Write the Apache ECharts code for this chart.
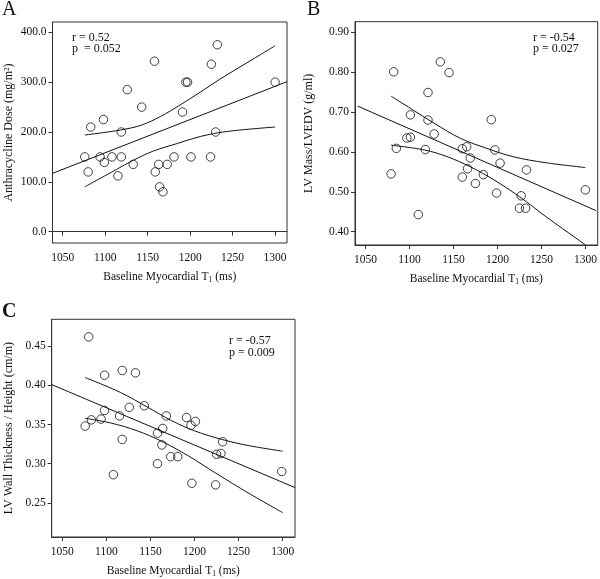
<!DOCTYPE html>
<html><head><meta charset="utf-8">
<script src="https://cdn.jsdelivr.net/npm/echarts@6/dist/echarts.min.js"></script>
<style>html,body{margin:0;padding:0;background:#fff}#c{width:600px;height:579px}</style>
</head><body><div id="c"></div>
<script>
// ---- tick labels ----
const xTicks = [1050, 1100, 1150, 1200, 1250, 1300];
const yTicksA = [0, 100, 200, 300, 400];
const yTicksB = [0.4, 0.5, 0.6, 0.7, 0.8, 0.9];
const yTicksC = [0.25, 0.30, 0.35, 0.40, 0.45];

// ---- Panel A: Anthracycline dose vs baseline T1 ----
const t1A = [1076,1080,1083,1094,1098,1099,1108,1115,1119,1119,1126,1133,1143,1158,1159,1163,1164,1168,1173,1181,1191,1195,1197,1201,1224,1225,1230,1232,1300];
const doseA = [150,120,210,150,225,139,150,112,200,150,285,135,250,342,120,135,90,80,135,150,240,300,300,150,150,336,200,375,300];
const fitAx = [1038, 1314];
const fitAy = [117, 301];
const upAx = [1076,1118,1143,1165,1188,1212,1235,1267,1300];
const upAy = [194,204,214,231,254,280,306,339,373];
const loAx = [1076,1106,1134,1157,1185,1212,1243,1300];
const loAy = [90,118,144,162,177,191,201,210];

// ---- Panel B: LV mass / LVEDV ----
const t1B = [1082,1135,1145,1121,1101,1121,1193,1128,1097,1101,1085,1118,1160,1165,1197,1169,1203,1166,1079,1184,1233,1160,1175,1199,1227,1225,1232,1300,1110];
const massB = [0.801,0.826,0.799,0.749,0.693,0.680,0.681,0.645,0.635,0.637,0.609,0.606,0.608,0.613,0.605,0.585,0.572,0.558,0.545,0.543,0.555,0.537,0.521,0.497,0.490,0.459,0.459,0.505,0.443];
const fitBx = [1041, 1312];
const fitBy = [0.715, 0.453];
const upBx = [1079,1102,1128,1158,1188,1218,1255,1300];
const upBy = [0.740,0.708,0.672,0.634,0.609,0.588,0.573,0.561];
const loBx = [1079,1117,1143,1169,1196,1225,1255,1293,1300];
const loBy = [0.617,0.605,0.588,0.563,0.530,0.488,0.438,0.378,0.367];

// ---- Panel C: LV wall thickness / height ----
const t1C = [1080,1098,1118,1133,1143,1126,1098,1115,1168,1191,1201,1196,1083,1094,1076,1164,1158,1118,1232,1163,1225,1230,1173,1181,1158,1299,1108,1197,1224];
const wallC = [0.462,0.413,0.419,0.416,0.374,0.372,0.368,0.361,0.361,0.359,0.354,0.349,0.356,0.357,0.348,0.345,0.339,0.331,0.328,0.324,0.312,0.313,0.309,0.309,0.300,0.290,0.286,0.275,0.273];
const fitCx = [1038, 1314];
const fitCy = [0.401, 0.2695];
const upCx = [1076,1116,1147,1174,1200,1231,1262,1300];
const upCy = [0.410,0.391,0.372,0.355,0.342,0.331,0.323,0.316];
const loCx = [1076,1105,1135,1162,1193,1224,1262,1300];
const loCy = [0.358,0.352,0.342,0.329,0.310,0.288,0.262,0.2375];

const FONT = "'Liberation Serif', 'Times New Roman', serif";
const TXT = '#111';
const zip = (xs, ys) => xs.map((x, i) => [x, ys[i]]);

function xAxisCfg(gi) {
  return {
    type: 'value', gridIndex: gi, min: 1038, max: 1314,
    name: '{n|Baseline Myocardial T}{s|1}{n| (ms)}',
    nameLocation: 'middle', nameGap: 27,
    nameTextStyle: { rich: {
      n: { fontFamily: FONT, fontSize: 11.5, color: TXT, lineHeight: 14 },
      s: { fontFamily: FONT, fontSize: 7.5, color: TXT, lineHeight: 14, verticalAlign: 'bottom' }
    } },
    splitLine: { show: false },
    axisLine: { show: true, lineStyle: { color: '#333', width: 1 } },
    axisTick: { show: true, inside: false, length: 4, lineStyle: { color: '#333' }, customValues: xTicks },
    axisLabel: { fontFamily: FONT, fontSize: 11.5, color: TXT, margin: 9, customValues: xTicks,
      formatter: v => String(Math.round(v)) }
  };
}
function yAxisCfg(gi, min, max, ticks, name, gap, dec) {
  return {
    type: 'value', gridIndex: gi, min: min, max: max,
    name: name, nameLocation: 'middle', nameGap: gap,
    nameTextStyle: { fontFamily: FONT, fontSize: 12, color: TXT },
    splitLine: { show: false },
    axisLine: { show: true, lineStyle: { color: '#333', width: 1 } },
    axisTick: { show: true, inside: false, length: 4, lineStyle: { color: '#333' }, customValues: ticks },
    axisLabel: { fontFamily: FONT, fontSize: 11.5, color: TXT, margin: 6, customValues: ticks,
      formatter: v => Number(v).toFixed(dec) }
  };
}
function scatter(gi, xs, ys) {
  return { type: 'scatter', xAxisIndex: gi, yAxisIndex: gi, data: zip(xs, ys),
    symbol: 'circle', symbolSize: 8.5, silent: true,
    itemStyle: { color: 'rgba(255,255,255,0)', borderColor: '#111', borderWidth: 1 } };
}
function line(gi, xs, ys, smooth) {
  return { type: 'line', xAxisIndex: gi, yAxisIndex: gi, data: zip(xs, ys),
    symbol: 'none', silent: true, smooth: smooth ? 0.35 : false, clip: true,
    lineStyle: { color: '#111', width: 1 }, z: 1 };
}
function txt(left, top, s, size, weight) {
  return { type: 'text', left: left, top: top,
    style: { text: s, fontFamily: FONT, fontSize: size, fill: TXT, fontWeight: weight || 'normal' } };
}

const chart = echarts.init(document.getElementById('c'), null, { renderer: 'canvas' });
chart.setOption({
  animation: false,
  backgroundColor: '#fff',
  grid: [
    { left: 52.5, top: 22, width: 234.5, height: 221, show: true, borderColor: '#333', borderWidth: 1 },
    { left: 355, top: 21.7, width: 242.7, height: 223.3, show: true, borderColor: '#333', borderWidth: 1 },
    { left: 51.7, top: 319.3, width: 243.3, height: 221.4, show: true, borderColor: '#333', borderWidth: 1 }
  ],
  xAxis: [xAxisCfg(0), xAxisCfg(1), xAxisCfg(2)],
  yAxis: [
    yAxisCfg(0, -22.7, 420.7, yTicksA, 'Anthracycline Dose (mg/m\u00B2)', 38, 1),
    yAxisCfg(1, 0.3667, 0.9266, yTicksB, 'LV Mass/LVEDV (g/ml)', 40, 2),
    yAxisCfg(2, 0.2064, 0.4844, yTicksC, 'LV Wall Thickness / Height (cm/m)', 37, 2)
  ],
  series: [
    line(0, fitAx, fitAy, false), line(0, upAx, upAy, true), line(0, loAx, loAy, true), scatter(0, t1A, doseA),
    line(1, fitBx, fitBy, false), line(1, upBx, upBy, true), line(1, loBx, loBy, true), scatter(1, t1B, massB),
    line(2, fitCx, fitCy, false), line(2, upCx, upCy, true), line(2, loCx, loCy, true), scatter(2, t1C, wallC)
  ],
  graphic: [
    txt(2, 0, 'A', 20), txt(307, 0, 'B', 20), txt(2, 302, 'C', 20, 'bold'),
    txt(72, 32, 'r = 0.52', 12), txt(72, 43, 'p  = 0.052', 12),
    txt(533, 32, 'r = -0.54', 12), txt(533, 43, 'p = 0.027', 12),
    txt(229, 335, 'r = -0.57', 12), txt(229, 347, 'p = 0.009', 12)
  ]
});
</script>
</body></html>
